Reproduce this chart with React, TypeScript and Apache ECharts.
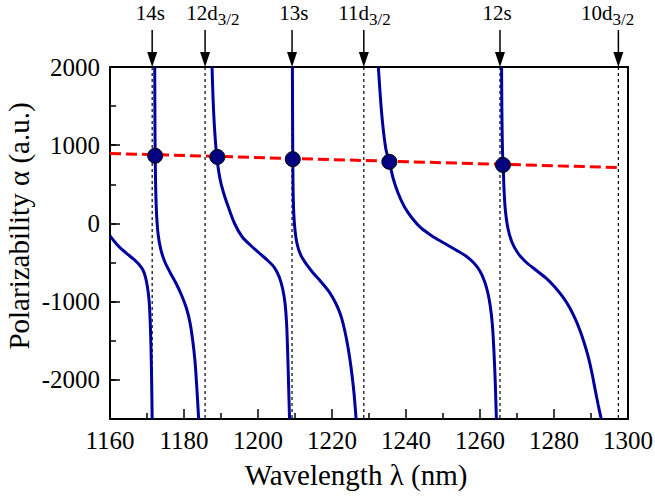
import React, { useEffect, useRef } from "react";
import * as echarts from "echarts";

const FONT = "Liberation Serif";
const BASE_SIZE = 21;

// Axis ranges and tick labels
const xMin = 1160;
const xMax = 1300;
const yMin = -2500;
const yMax = 2000;
const xTickLabels = [1160, 1180, 1200, 1220, 1240, 1260, 1280, 1300];
const yTickLabels = [-2000, -1000, 0, 1000, 2000];

// Axis titles
const xTitle = "Wavelength λ (nm)";
const yTitle = "Polarizability α (a.u.)";

// Resonances (dashed lines with arrows) and their labels
const resonanceLambda = [1171.4, 1185.7, 1209.2, 1228.6, 1265.4, 1297.4];
const labelLambda = [1170.9, 1187.8, 1209.7, 1228.8, 1264.6, 1294.5];
const labelMain = ["14s", "12d", "13s", "11d", "12s", "10d"];
const labelSub = ["", "3/2", "", "3/2", "", "3/2"];

// Polarizability branches (between poles), [wavelength nm, alpha a.u.]
const branch1 = [
  [1160, -160], [1161.75, -263], [1163.37, -339], [1164.99, -403], [1166.61, -467],
  [1167.96, -531], [1168.9, -595], [1169.58, -685], [1170.12, -812], [1170.55, -978],
  [1170.85, -1234], [1171.06, -1553], [1171.23, -1937], [1171.33, -2257], [1171.39, -2500],
];
const branch2 = [
  [1172.09, 2000], [1172.14, 1322], [1172.22, 849], [1172.36, 427], [1172.6, 108],
  [1173.03, -148], [1173.76, -339], [1174.84, -493], [1176.32, -633], [1177.94, -774],
  [1179.43, -927], [1180.64, -1081], [1181.59, -1260], [1182.34, -1490], [1182.94, -1745],
  [1183.42, -2065], [1183.96, -2500],
];
const branch3 = [
  [1187.58, 2000], [1187.87, 1578], [1188.28, 1195], [1188.87, 849], [1189.68, 581],
  [1190.63, 402], [1191.98, 210], [1193.73, -7], [1195.75, -173], [1198.18, -288],
  [1200.61, -390], [1202.77, -480], [1204.52, -570], [1205.74, -685], [1206.68, -838],
  [1207.3, -1017], [1207.71, -1260], [1208.0, -1618], [1208.27, -2065], [1208.52, -2500],
];
const branch4 = [
  [1209.3, 2000], [1209.35, 1322], [1209.41, 811], [1209.54, 300], [1209.87, -19],
  [1210.51, -250], [1211.54, -403], [1213.02, -518], [1214.91, -633], [1217.07, -748],
  [1219.23, -876], [1220.98, -1017], [1222.33, -1170], [1223.41, -1362], [1224.36, -1592],
  [1225.17, -1848], [1225.92, -2155], [1226.51, -2500],
];
const branch5 = [
  [1232.53, 2000], [1232.94, 1706], [1233.39, 1425], [1233.93, 1169], [1234.61, 939],
  [1235.5, 786], [1236.5, 581], [1237.85, 389], [1239.6, 210], [1241.62, 70],
  [1244.05, -58], [1247.02, -160], [1250.26, -250], [1253.5, -339], [1256.19, -416],
  [1258.35, -506], [1259.97, -608], [1261.19, -736], [1262.13, -889], [1262.81, -1068],
  [1263.35, -1298], [1263.75, -1618], [1264.1, -2001], [1264.43, -2500],
];
const branch6 = [
  [1265.83, 2000], [1265.91, 1450], [1266.07, 939], [1266.26, 747], [1266.5, 427],
  [1266.85, 172], [1267.53, -58], [1268.61, -237], [1270.23, -378], [1272.39, -493],
  [1275.09, -595], [1277.79, -697], [1280.22, -812], [1282.38, -940], [1284.13, -1068],
  [1285.62, -1208], [1286.97, -1362], [1288.17, -1528], [1289.26, -1707], [1290.2, -1899],
  [1291.14, -2129], [1291.95, -2321], [1292.76, -2500],
];
const branches = [branch1, branch2, branch3, branch4, branch5, branch6];

// Red dashed reference line
const redLambda = [1160, 1297];
const redAlpha = [895, 715];

// Crossing markers
const crossLambda = [1172.2, 1189.0, 1209.4, 1235.5, 1266.2];
const crossAlpha = [865, 850, 822, 788, 748];

let measureCtx: CanvasRenderingContext2D | null = null;
function measure(text: string, size: number): number {
  if (!measureCtx) {
    measureCtx = document.createElement("canvas").getContext("2d");
  }
  if (!measureCtx) return text.length * size * 0.5;
  measureCtx.font = `${size}px "${FONT}"`;
  return measureCtx.measureText(text).width;
}

// Left-aligned serif text inside a scaled group (same path as the top labels)
function serifLabel(text: string, x: number, y: number, size: number, align: string, rotation = 0) {
  const s = size / BASE_SIZE;
  const w = measure(text, BASE_SIZE);
  const off = align === "center" ? -w / 2 : align === "right" ? -w : 0;
  return {
    type: "group",
    x,
    y,
    rotation,
    scaleX: s,
    scaleY: s,
    children: [
      {
        type: "text",
        x: off,
        y: 0,
        style: {
          text,
          fontSize: BASE_SIZE,
          fontFamily: FONT,
          fill: "#000",
          align: "left",
          verticalAlign: "middle",
        },
      },
    ],
  };
}

export default function App() {
  const ref = useRef<HTMLDivElement>(null);

  useEffect(() => {
    if (!ref.current) return;
    const chart = echarts.init(ref.current, undefined, { renderer: "svg" });

    const blueSeries = branches.map((b) => ({
      type: "line",
      data: b,
      smooth: 0.3,
      showSymbol: false,
      symbol: "none",
      lineStyle: { color: "#00009c", width: 3 },
      z: 3,
      silent: true,
    }));

    const option: any = {
      animation: false,
      backgroundColor: "#fff",
      graphic: [
        serifLabel(xTitle, 356, 475, 29, "center"),
        serifLabel(yTitle, 19, 226, 29, "center", Math.PI / 2),
      ],
      grid: { left: 110, right: 27, top: 67, bottom: 78, containLabel: false, outerBoundsMode: "none" },
      xAxis: [
        {
          type: "value",
          position: "bottom",
          min: xMin,
          max: xMax,
          interval: 20,
          axisLine: { onZero: false, lineStyle: { color: "#000", width: 2 } },
          axisTick: { inside: true, length: 10, lineStyle: { color: "#000", width: 1.5 } },
          minorTick: { show: true, splitNumber: 2, length: 6, lineStyle: { color: "#000", width: 1.5 } },
          axisLabel: { show: false },
          splitLine: { show: false },
        },
        {
          type: "value",
          position: "top",
          min: xMin,
          max: xMax,
          axisLine: { onZero: false, lineStyle: { color: "#000", width: 2 } },
          axisTick: { show: false },
          axisLabel: { show: false },
          splitLine: { show: false },
        },
      ],
      yAxis: [
        {
          type: "value",
          position: "left",
          min: yMin,
          max: yMax,
          interval: 500,
          axisLine: { onZero: false, lineStyle: { color: "#000", width: 2 } },
          axisTick: {
            inside: true,
            length: 10,
            customValues: yTickLabels,
            lineStyle: { color: "#000", width: 1.5 },
          },
          axisLabel: { show: false },
          splitLine: { show: false },
        },
        {
          type: "value",
          position: "left",
          min: yMin,
          max: yMax,
          interval: 500,
          axisLine: { show: false, onZero: false },
          axisTick: { inside: true, length: 6, lineStyle: { color: "#000", width: 1.5 } },
          axisLabel: { show: false },
          splitLine: { show: false },
        },
        {
          type: "value",
          position: "right",
          min: yMin,
          max: yMax,
          axisLine: { show: true, onZero: false, lineStyle: { color: "#000", width: 2 } },
          axisTick: { show: false },
          axisLabel: { show: false },
          splitLine: { show: false },
        },
      ],
      series: [
        {
          type: "custom",
          silent: true,
          clip: false,
          z: 1,
          data: xTickLabels.map((v) => [v, yMin]),
          renderItem: (params: any, api: any) => {
            const p = api.coord([api.value(0), api.value(1)]);
            return serifLabel(String(xTickLabels[params.dataIndex]), p[0], p[1] + 21.5, 25, "center");
          },
        },
        {
          type: "custom",
          silent: true,
          clip: false,
          z: 1,
          data: yTickLabels.map((v) => [xMin, v]),
          renderItem: (params: any, api: any) => {
            const p = api.coord([api.value(0), api.value(1)]);
            return serifLabel(String(yTickLabels[params.dataIndex]), p[0] - 10, p[1], 25, "right");
          },
        },
        {
          type: "custom",
          z: 1,
          silent: true,
          clip: false,
          data: resonanceLambda.map((l, i) => [l, labelLambda[i]]),
          renderItem: (params: any, api: any) => {
            const i = params.dataIndex;
            const lam = api.value(0);
            const top = api.coord([lam, yMax]);
            const bot = api.coord([lam, yMin]);
            const x = top[0];
            const yTop = top[1];
            const lx = api.coord([api.value(1), yMax])[0];
            const main = labelMain[i];
            const sub = labelSub[i];
            const wm = measure(main, 21);
            const ws = sub ? measure(sub, 17) : 0;
            const left = lx - (wm + ws) / 2;
            const children: any[] = [
              {
                type: "line",
                shape: { x1: x, y1: yTop, x2: x, y2: bot[1] },
                style: { stroke: "#000", lineWidth: 1.2, lineDash: [3, 3] },
              },
              {
                type: "line",
                shape: { x1: x, y1: yTop - 37, x2: x, y2: yTop - 12 },
                style: { stroke: "#000", lineWidth: 1.5 },
              },
              {
                type: "polygon",
                shape: { points: [[x - 5, yTop - 15], [x + 5, yTop - 15], [x, yTop]] },
                style: { fill: "#000" },
              },
              {
                type: "text",
                x: left,
                y: yTop - 54,
                style: {
                  text: main,
                  fontSize: 21,
                  fontFamily: FONT,
                  fill: "#000",
                  align: "left",
                  verticalAlign: "middle",
                },
              },
            ];
            if (sub) {
              children.push({
                type: "text",
                x: left + wm,
                y: yTop - 48,
                style: {
                  text: sub,
                  fontSize: 17,
                  fontFamily: FONT,
                  fill: "#000",
                  align: "left",
                  verticalAlign: "middle",
                },
              });
            }
            return { type: "group", children };
          },
        },
        ...blueSeries,
        {
          type: "line",
          data: redLambda.map((l, i) => [l, redAlpha[i]]),
          showSymbol: false,
          symbol: "none",
          lineStyle: { color: "#ff0000", width: 3, type: [11, 5] },
          z: 4,
          silent: true,
        },
        {
          type: "scatter",
          data: crossLambda.map((l, i) => [l, crossAlpha[i]]),
          symbol: "circle",
          symbolSize: 15,
          itemStyle: { color: "#000080", borderColor: "#000", borderWidth: 1, opacity: 1 },
          z: 5,
          silent: true,
        },
      ],
    };

    chart.setOption(option);
    return () => {
      chart.dispose();
    };
  }, []);

  return (
    <div
      ref={ref}
      style={{ position: "absolute", left: 0, top: 0, width: 655, height: 497, background: "#fff" }}
    />
  );
}
